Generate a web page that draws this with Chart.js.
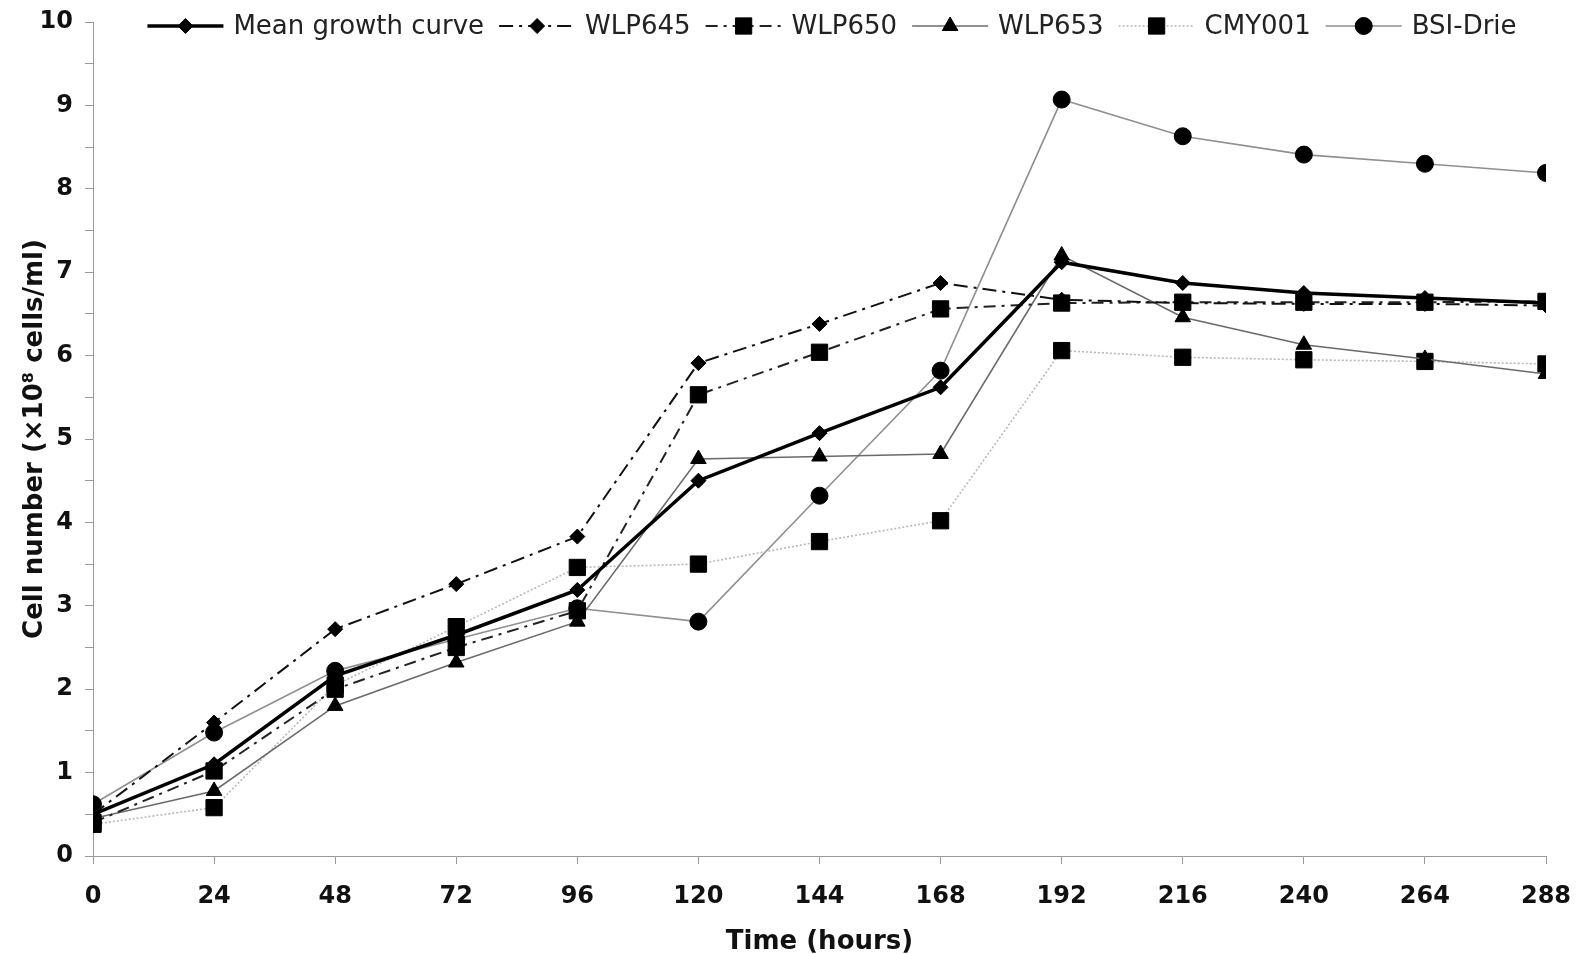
<!DOCTYPE html>
<html>
<head>
<meta charset="utf-8">
<script src="https://cdn.jsdelivr.net/npm/chart.js@4.4.1/dist/chart.umd.min.js"></script>
<style>
  html, body { margin: 0; padding: 0; background: #fff; }
  #wrap { width: 1579px; height: 954px; }
</style>
</head>
<body>
<div id="wrap"><canvas id="growth"></canvas></div>
<script>
// growth curves, cell number x10^8 cells/ml
var hours = [0, 24, 48, 72, 96, 120, 144, 168, 192, 216, 240, 264, 288];
var meanCurve = [0.5, 1.1, 2.16, 2.65, 3.19, 4.5, 5.07, 5.62, 7.12, 6.87, 6.75, 6.69, 6.63];
var wlp645 = [0.5, 1.6, 2.72, 3.26, 3.83, 5.91, 6.38, 6.87, 6.67, 6.63, 6.62, 6.62, 6.6];
var wlp650 = [0.4, 1.02, 2.0, 2.5, 2.94, 5.53, 6.04, 6.56, 6.63, 6.64, 6.64, 6.64, 6.65];
var wlp653 = [0.45, 0.78, 1.8, 2.32, 2.81, 4.76, 4.79, 4.82, 7.2, 6.46, 6.13, 5.96, 5.78];
var cmy001 = [0.38, 0.58, 2.05, 2.75, 3.46, 3.5, 3.77, 4.02, 6.06, 5.98, 5.95, 5.93, 5.9];
var bsiDrie = [0.62, 1.48, 2.22, 2.6, 2.97, 2.81, 4.32, 5.82, 9.07, 8.63, 8.41, 8.3, 8.19];

var yTicks = [0, 1, 2, 3, 4, 5, 6, 7, 8, 9, 10];

function pts(vals) {
  return hours.map(function (h, i) { return { x: h, y: vals[i] }; });
}

function series(label, vals, color, width, dash, shape, r) {
  return {
    label: label,
    data: pts(vals),
    borderColor: color,
    borderWidth: width,
    borderDash: dash,
    pointStyle: shape,
    pointRadius: r,
    pointBackgroundColor: '#000',
    pointBorderColor: '#000',
    pointBorderWidth: 1,
    tension: 0,
    fill: false
  };
}

var datasets = [
  series('Mean growth curve', meanCurve, '#000', 3.5, [], 'rectRot', 7.5),
  series('WLP645', wlp645, '#111', 2, [14, 6, 3, 6], 'rectRot', 7.5),
  series('WLP650', wlp650, '#222', 2, [12, 6, 3, 6], 'rect', 11.5),
  series('WLP653', wlp653, '#6a6a6a', 1.6, [], 'triangle', 9),
  series('CMY001', cmy001, '#b8b8b8', 1.6, [2, 2], 'rect', 11.5),
  series('BSI-Drie', bsiDrie, '#8f8f8f', 1.6, [], 'circle', 8.5)
];

// legend drawn on top of the plot, line sample with marker in the middle
var lineLegend = {
  id: 'lineLegend',
  afterDraw: function (chart) {
    var ctx = chart.ctx;
    var sets = chart.data.datasets;
    var y = 26, sample = 76, gap = 10, itemGap = 15;
    ctx.save();
    ctx.font = '26px "DejaVu Sans"';
    var total = 0;
    sets.forEach(function (ds) { total += sample + gap + ctx.measureText(ds.label).width + itemGap; });
    total -= itemGap;
    var x = 832 - total / 2;
    sets.forEach(function (ds) {
      ctx.beginPath();
      ctx.setLineDash(ds.borderDash || []);
      ctx.lineWidth = ds.borderWidth;
      ctx.strokeStyle = ds.borderColor;
      ctx.moveTo(x, y);
      ctx.lineTo(x + sample, y);
      ctx.stroke();
      ctx.setLineDash([]);
      ctx.fillStyle = '#000';
      ctx.strokeStyle = '#000';
      ctx.lineWidth = 1;
      Chart.helpers.drawPoint(ctx, { pointStyle: ds.pointStyle, radius: ds.pointRadius, borderWidth: 1, rotation: 0 }, x + sample / 2, y);
      ctx.fillStyle = '#222';
      ctx.textBaseline = 'middle';
      ctx.textAlign = 'left';
      ctx.fillText(ds.label, x + sample + gap, y + 1);
      x += sample + gap + ctx.measureText(ds.label).width + itemGap;
    });
    ctx.restore();
  }
};

var ctx = document.getElementById('growth').getContext('2d');
var growthChart = new Chart(ctx, {
  type: 'line',
  data: { datasets: datasets },
  options: {
    responsive: true,
    maintainAspectRatio: false,
    animation: false,
    layout: { padding: { top: 22, right: 33, left: 0, bottom: 0 } },
    plugins: {
      legend: { display: false },
      tooltip: { enabled: false }
    },
    scales: {
      x: {
        type: 'linear',
        min: 0,
        max: 288,
        afterFit: function (s) { s.height = 98; s.paddingLeft = 0; s.paddingRight = 0; },
        ticks: {
          stepSize: 24,
          padding: 18,
          color: '#111',
          font: { family: 'DejaVu Sans', weight: 'bold', size: 24 }
        },
        grid: { drawOnChartArea: false, drawTicks: true, tickLength: 8, color: '#999' },
        border: { color: '#999' },
        title: {
          display: true,
          text: 'Time (hours)',
          color: '#111',
          padding: { top: 0, bottom: -4 },
          font: { family: 'DejaVu Sans', weight: 'bold', size: 26 }
        }
      },
      y: {
        min: 0,
        max: 10,
        afterFit: function (s) { s.width = 93; s.paddingTop = 0; s.paddingBottom = 0; },
        ticks: {
          stepSize: 0.5,
          autoSkip: false,
          padding: 12,
          color: '#111',
          font: { family: 'DejaVu Sans', weight: 'bold', size: 24 },
          callback: function (v) { return yTicks.indexOf(v) >= 0 ? String(v) : ''; }
        },
        grid: { drawOnChartArea: false, drawTicks: true, tickLength: 8, color: '#999' },
        border: { color: '#999' },
        title: {
          display: true,
          text: 'Cell number (×10⁸ cells/ml)',
          color: '#111',
          padding: { top: 20, bottom: 0 },
          font: { family: 'DejaVu Sans', weight: 'bold', size: 26 }
        }
      }
    }
  },
  plugins: [lineLegend]
});
</script>
</body>
</html>
